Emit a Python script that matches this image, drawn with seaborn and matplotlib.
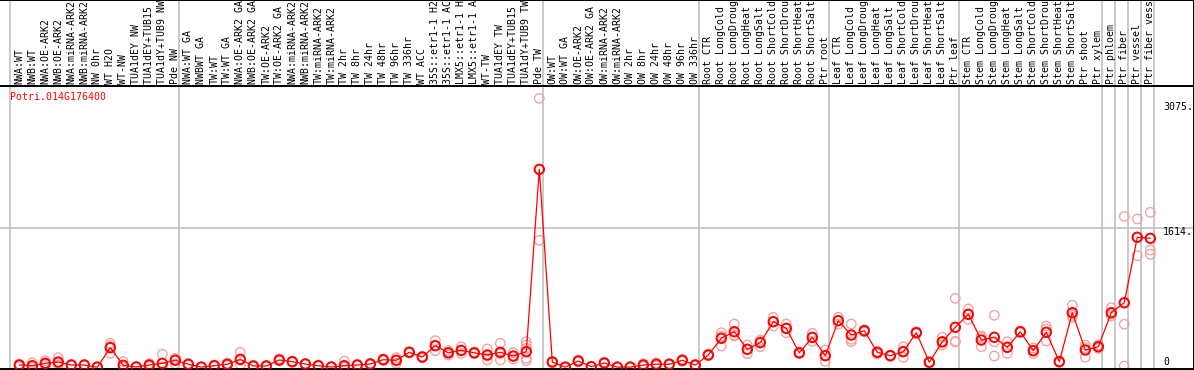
import numpy as np
import pandas as pd
import matplotlib
matplotlib.use("Agg")
import matplotlib.pyplot as plt
import seaborn as sns

title = "Potri.014G176400"

labels = [
    "NWA:WT", "NWB:WT", "NWA:OE-ARK2", "NWB:OE-ARK2", "NWA:miRNA-ARK2", "NWB:miRNA-ARK2",
    "NW 0hr", "WT H2O", "WT-NW", "TUA1dEY NW", "TUA1dEY+TUB15 ", "TUA1dY+TUB9 NW", "Pde NW",
    "NWA:WT GA", "NWBWT GA", "TW:WT", "TW:WT GA", "NWA:OE-ARK2 GA", "NWB:OE-ARK2 GA",
    "TW:OE-ARK2", "TW:OE-ARK2 GA", "NWA:miRNA-ARK2", "NWB:miRNA-ARK2", "TW:miRNA-ARK2",
    "TW:miRNA-ARK2", "TW 2hr", "TW 8hr", "TW 24hr", "TW 48hr", "TW 96hr", "TW 336hr", "WT ACC",
    "35S::etr1-1 H2", "35S::etr1-1 AC", "LMX5::etr1-1 H", "LMX5::etr1-1 A", "WT-TW",
    "TUA1dEY TW", "TUA1dEY+TUB15 ", "TUA1dY+TUB9 TW", "Pde TW",
    "OW:WT", "OW:WT GA", "OW:OE-ARK2", "OW:OE-ARK2 GA", "OW:miRNA-ARK2", "OW:miRNA-ARK2",
    "OW 2hr", "OW 8hr", "OW 24hr", "OW 48hr", "OW 96hr", "OW 336hr",
    "Root CTR", "Root LongCold", "Root LongDroug", "Root LongHeat", "Root LongSalt",
    "Root ShortCold", "Root ShortDrou", "Root ShortHeat", "Root ShortSalt", "Ptr root",
    "Leaf CTR", "Leaf LongCold", "Leaf LongDroug", "Leaf LongHeat", "Leaf LongSalt",
    "Leaf ShortCold", "Leaf ShortDrou", "Leaf ShortHeat", "Leaf ShortSalt", "Ptr leaf",
    "Stem CTR", "Stem LongCold", "Stem LongDroug", "Stem LongHeat", "Stem LongSalt",
    "Stem ShortCold", "Stem ShortDrou", "Stem ShortHeat", "Stem ShortSalt", "Ptr shoot",
    "Ptr xylem", "Ptr phloem", "Ptr fiber", "Ptr vessel", "Ptr fiber vess",
]

means = [
    24, 16, 44, 59, 24, 24, 0, 226, 21, 1, 24, 44, 79,
    33, 0, 16, 33, 91, 13, 13, 83, 63, 36, 16, 1, 16, 24, 36, 86, 79, 172, 117,
    249, 166, 195, 166, 141, 172, 129, 179, 2300,
    59, 0, 71, 5, 48, 0, 0, 24, 33, 33, 79, 24,
    141, 335, 412, 207, 284, 528, 451, 166, 346, 133,
    540, 373, 423, 172, 133, 179, 400, 56, 295, 463,
    614, 315, 347, 230, 411, 191, 405, 63, 633, 199, 237,
    633, 749, 1510, 1498,
]

reps = [
    [36, 30, 5], [51, 0, 0], [74, 40, 18], [109, 44, 24], [30, 24, 18], [28, 24, 20],
    [0, 0, 2], [277, 249, 160], [63, 0, 0], [2, 1, 0], [40, 24, 8], [150, 0, 0], [100, 100, 37],
    [40, 33, 26], [0, 0, 0], [24, 16, 8], [45, 33, 21], [172, 77, 24], [20, 13, 6], [20, 13, 6],
    [95, 83, 71], [70, 63, 56], [40, 36, 32], [24, 16, 8], [2, 1, 0], [70, 0, 0], [30, 24, 18],
    [42, 36, 30], [95, 86, 77], [110, 83, 44], [180, 172, 164], [125, 117, 109],
    [307, 249, 191], [190, 166, 141], [237, 190, 160], [175, 166, 157], [211, 130, 83],
    [277, 156, 83], [167, 125, 95], [295, 257, 219, 102, 74], [3126, 2300, 1475],
    [65, 59, 53], [0, 0, 0], [80, 71, 62], [8, 5, 2], [55, 48, 41], [0, 0, 0], [0, 0, 0],
    [40, 24, 8], [50, 33, 16], [40, 33, 26], [90, 79, 68], [30, 24, 18],
    [150, 141, 132], [400, 360, 245], [501, 373, 362], [257, 207, 157], [315, 300, 237],
    [579, 528, 478], [501, 451, 400], [175, 166, 157], [393, 346, 300], [199, 133, 67],
    [579, 540, 501], [501, 323, 295], [435, 423, 411], [180, 172, 152], [140, 133, 126],
    [237, 186, 114], [410, 400, 390], [62, 56, 50], [347, 281, 257], [800, 300, 292],
    [676, 610, 556], [362, 345, 237], [603, 295, 129], [295, 235, 160], [420, 411, 402],
    [222, 191, 160], [478, 443, 304], [70, 63, 56], [719, 600, 579], [257, 226, 114],
    [257, 237, 217], [691, 614, 594], [1753, 498, 13], [1723, 1511, 1296], [1800, 1362, 1312],
]

group_edges = [0, 13, 41, 53, 63, 73, 84, 85, 86, 87, 88]
yticks = [0, 1614, 3075]
ytick_labels = ["0", "1614.", "3075."]
gridline = 1614

rep_df = pd.DataFrame(
    [(i, v) for i, r in enumerate(reps) for v in r], columns=["sample", "value"]
)
mean_df = pd.DataFrame({"sample": np.arange(len(means)), "value": means})

sns.set_style("white")
plt.rcParams["font.family"] = ["DejaVu Sans Mono"]

W, H = 1194, 370
fig = plt.figure(figsize=(W / 100, H / 100), dpi=100)


def box(px0, py0, px1, py1):
    return [px0 / W, 1 - py1 / H, (px1 - px0) / W, (py1 - py0) / H]


ax = fig.add_axes(box(0, 86, 1194, 369))
hx = fig.add_axes(box(0, 0, 1194, 86))

xlo = (0 - 19.3) / 13
xhi = (1194 - 19.3) / 13
scale = 0.08597
ylo = -(369 - 367.1) / scale
yhi = (367.1 - 86) / scale

for a in (ax, hx):
    a.set_xlim(xlo, xhi)
    for k in group_edges:
        a.axvline(k - 0.715, color="#c0c0c0", lw=1.2, zorder=0)
    a.set_xticks([])
    a.set_yticks([])
    for s in a.spines.values():
        s.set_color("black")
        s.set_linewidth(1.4)
    a.spines["left"].set_visible(False)

ax.set_ylim(ylo, yhi)
ax.axhline(gridline, color="#c0c0c0", lw=1.2, zorder=0)

sns.scatterplot(data=rep_df, x="sample", y="value", ax=ax, marker="o", s=46,
                facecolor="none", edgecolor="#f2a4a4", linewidth=1.0, zorder=2,
                legend=False)
sns.lineplot(data=mean_df, x="sample", y="value", ax=ax, color="#ff0000", lw=0.9,
             zorder=3, legend=False)
sns.scatterplot(data=mean_df, x="sample", y="value", ax=ax, marker="o", s=46,
                facecolor="none", edgecolor="#ff0000", linewidth=1.4, zorder=4,
                legend=False)
ax.set_xlabel("")
ax.set_ylabel("")

ax.text(10 / 1194, 1 - 11 / 283, title, transform=ax.transAxes, color="#ff0000",
        fontsize=7.1, ha="left", va="center")

ypix = {0: 362, 1614: 232, 3075: 107}
for v, t in zip(yticks, ytick_labels):
    ax.text(1163 / 1194, (369 - ypix[v]) / 283, t, transform=ax.transAxes,
            fontsize=7.1, ha="left", va="center", color="black")

hx.set_ylim(0, 86)
for i, lab in enumerate(labels):
    hx.text(i, 2, lab, rotation=90, ha="center", va="bottom", fontsize=7.1,
            color="black", clip_on=True)

fig.savefig("out.png", dpi=100)
